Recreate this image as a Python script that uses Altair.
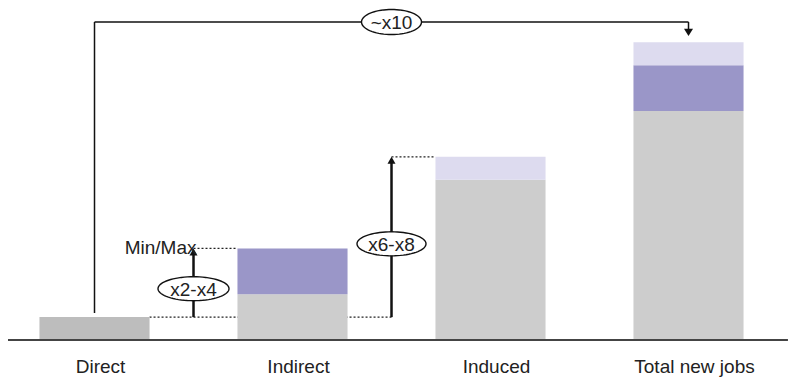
import altair as alt
import numpy as np
import pandas as pd

# ---------------- data ----------------
categories = ["Direct", "Indirect", "Induced", "Total new jobs"]
core_jobs = [1, 2, 7, 10]      # grey part of each bar (min)
mid_jobs = [0, 2, 0, 2]        # dark lavender part
upper_jobs = [0, 0, 1, 1]      # light lavender part

multiplier_labels = ["x2-x4", "x6-x8", "~x10"]
min_max_label = "Min/Max"

# ---------------- tables ----------------
rows = []
for i, c in enumerate(categories):
    start = 0
    for part, vals in (("core", core_jobs), ("mid", mid_jobs), ("upper", upper_jobs)):
        v = vals[i]
        if v:
            kind = "direct" if (i == 0 and part == "core") else part
            rows.append(dict(category=c, pos=i, kind=kind, y0=start, y1=start + v))
            start += v
seg = pd.DataFrame(rows)
tops = [core_jobs[i] + mid_jobs[i] + upper_jobs[i] for i in range(len(categories))]
direct_top, indirect_max, induced_max, total_max = tops

cat_df = pd.DataFrame({"category": categories, "pos": list(range(len(categories)))})

FONT = "Liberation Sans"
HALF = 0.278
BRACKET_Y = 13.886
X_MIN, X_MAX = -0.4369, 3.5227

x_scale = alt.Scale(domain=[X_MIN, X_MAX], nice=False, zero=False)
y_scale = alt.Scale(domain=[-1.7467, 14.498], nice=False, zero=False)


def X(f):
    return alt.X(f, scale=x_scale, axis=None)


def Y(f):
    return alt.Y(f, scale=y_scale, axis=None)


def ellipse_path(ratio, n=72):
    t = np.linspace(0, 2 * np.pi, n, endpoint=False)
    pts = [f"{np.cos(a):.4f},{ratio * np.sin(a):.4f}" for a in t]
    return "M" + " L".join(pts) + " Z"


UP = "M0,0 L-1,1.75 L1,1.75 Z"
DOWN = "M0,0 L-1,-1.6 L1,-1.6 Z"

# dotted guide lines
dots_df = pd.DataFrame({
    "xa": [0 + HALF, 0.5, 1.5],
    "xb": [1.5, 1 - HALF, 2 - HALF],
    "y": [direct_top, indirect_max, induced_max],
})
dots = alt.Chart(dots_df).mark_rule(strokeDash=[2, 2], strokeWidth=1.3, color="#222222").encode(
    x=X("xa:Q"), x2="xb:Q", y=Y("y:Q"))

bars = alt.Chart(seg).transform_calculate(
    xa=f"datum.pos - {HALF}", xb=f"datum.pos + {HALF}"
).mark_rect().encode(
    x=X("xa:Q"), x2="xb:Q", y=Y("y0:Q"), y2="y1:Q",
    color=alt.Color("kind:N", legend=None, scale=alt.Scale(
        domain=["direct", "core", "mid", "upper"],
        range=["#bdbdbd", "#cdcdcd", "#9a96c8", "#dddbef"])),
)

baseline = alt.Chart(cat_df).mark_rule(color="#444444", strokeWidth=2).encode(
    x=alt.datum(X_MIN, scale=x_scale, axis=None), x2=alt.datum(3.5),
    y=alt.datum(0, scale=y_scale, axis=None))

# ~x10 bracket
br_v = pd.DataFrame({"x": [0, 3], "ya": [1.18, BRACKET_Y], "yb": [BRACKET_Y, 13.5]})
bracket_v = alt.Chart(br_v).mark_rule(color="#111111", strokeWidth=1.5).encode(
    x=X("x:Q"), y=Y("ya:Q"), y2="yb:Q")
br_h = pd.DataFrame({"xa": [0], "xb": [3], "y": [BRACKET_Y]})
bracket_h = alt.Chart(br_h).mark_rule(color="#111111", strokeWidth=1.5).encode(
    x=X("xa:Q"), x2="xb:Q", y=Y("y:Q"))
down_head = alt.Chart(pd.DataFrame({"x": [3], "y": [13.275]})).mark_point(
    shape=DOWN, size=81, filled=True, color="#111111", opacity=1, strokeWidth=0).encode(
    x=X("x:Q"), y=Y("y:Q"))

# multiplier arrows
shafts_df = pd.DataFrame({"x": [0.5, 1.5], "ya": [direct_top, direct_top],
                          "yb": [indirect_max - 0.2, induced_max - 0.2]})
shafts = alt.Chart(shafts_df).mark_rule(color="#111111", strokeWidth=2.5).encode(
    x=X("x:Q"), y=Y("ya:Q"), y2="yb:Q")
heads_df = pd.DataFrame({"x": [0.5, 1.5], "y": [indirect_max, induced_max]})
heads = alt.Chart(heads_df).mark_point(
    shape=UP, size=64, filled=True, color="#111111", opacity=1, strokeWidth=0).encode(
    x=X("x:Q"), y=Y("y:Q"))

# ellipses with labels
ell_pos = [(0.5, 2.24), (1.5, 4.2), (1.5, BRACKET_Y)]
ell_style = [(71, 0.338), (69, 0.348), (60, 0.417)]
ell_layers = []
for lab, (px, py), (w, r) in zip(multiplier_labels, ell_pos, ell_style):
    d = pd.DataFrame({"x": [px], "y": [py], "label": [lab]})
    ell_layers.append(alt.Chart(d).mark_point(
        shape=ellipse_path(r), size=w * w, filled=True, fill="white", stroke="#111111",
        strokeWidth=1.4, opacity=1).encode(x=X("x:Q"), y=Y("y:Q")))
    ell_layers.append(alt.Chart(d).mark_text(
        font=FONT, fontSize=19, color="#222222", align="center", baseline="middle", dy=1).encode(
        x=X("x:Q"), y=Y("y:Q"), text="label:N"))

minmax = alt.Chart(pd.DataFrame({"x": [0.5], "y": [indirect_max], "label": [min_max_label]})).mark_text(
    font=FONT, fontSize=19, color="#222222", align="right", baseline="alphabetic", dx=3, dy=6).encode(
    x=X("x:Q"), y=Y("y:Q"), text="label:N")

cat_labels = alt.Chart(cat_df).transform_calculate(y0="0").mark_text(
    font=FONT, fontSize=19, color="#222222", align="center", baseline="alphabetic", dx=6, dy=33).encode(
    x=X("pos:Q"), y=Y("y0:Q"), text="category:N")

chart = alt.layer(
    dots, bars, baseline, bracket_v, bracket_h, down_head, shafts, heads,
    *ell_layers, minmax, cat_labels,
).properties(
    width=784, height=372, padding=0,
    autosize=alt.AutoSizeParams(type="none"),
).configure_view(stroke=None)

chart.save("out.html", embed_options={"renderer": "svg", "actions": False})
